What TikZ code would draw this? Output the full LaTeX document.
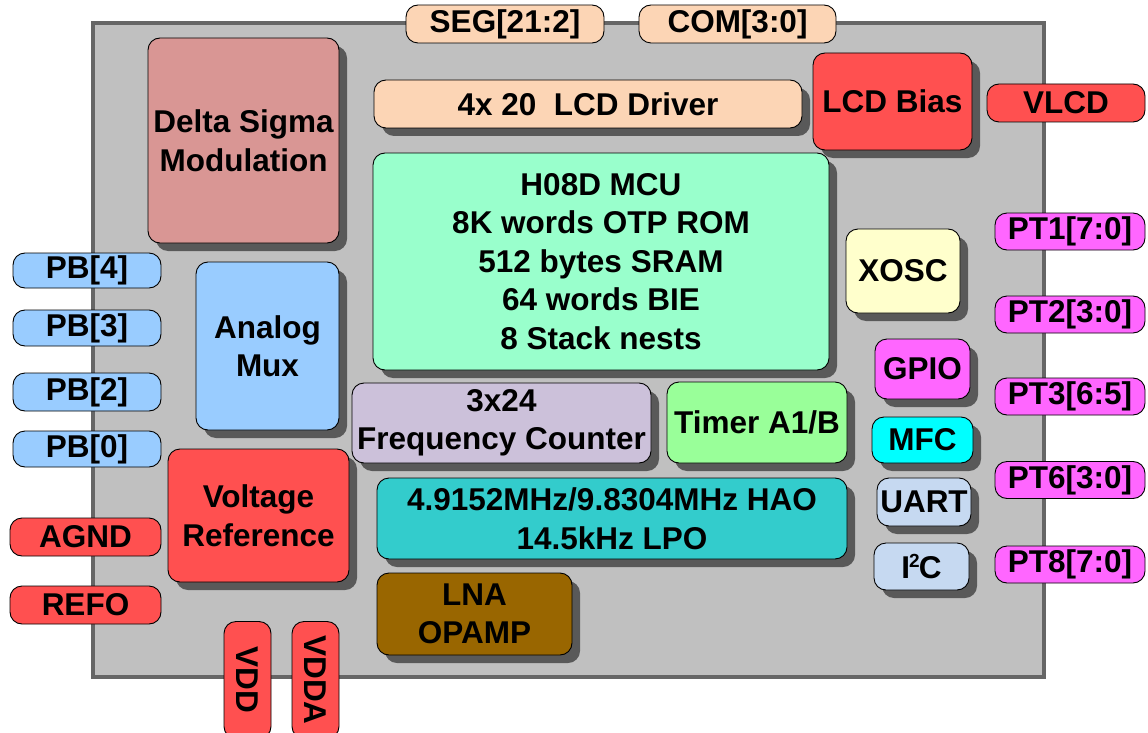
\documentclass[tikz,border=0pt]{standalone}
\usepackage{fontspec}
\setmainfont{Liberation Sans}
\usetikzlibrary{shadows}

\definecolor{chipgray}{HTML}{C0C0C0}
\definecolor{chipedge}{HTML}{666666}
\definecolor{shade}{HTML}{595959}
\definecolor{rose}{HTML}{D99694}
\definecolor{peach}{HTML}{FCD5B5}
\definecolor{pinred}{HTML}{FF5050}
\definecolor{mint}{HTML}{99FFCC}
\definecolor{cream}{HTML}{FFFFCC}
\definecolor{pink}{HTML}{FF66FF}
\definecolor{aqua}{HTML}{00FFFF}
\definecolor{paleblue}{HTML}{C6D9F1}
\definecolor{skyblue}{HTML}{99CCFF}
\definecolor{lilac}{HTML}{CCC1DA}
\definecolor{lime}{HTML}{99FF99}
\definecolor{teal}{HTML}{33CCCC}
\definecolor{bronze}{HTML}{996600}

\tikzset{
  pin/.style={draw=black, line width=0.9pt, rounded corners=12pt,
    inner sep=0pt, align=center,
    font=\bfseries\fontsize{31.5}{38.5}\selectfont},
  blk/.style={pin, drop shadow={shadow xshift=8pt, shadow yshift=-8pt,
    fill=shade, opacity=1}},
}

\begin{document}
\begin{tikzpicture}[x=1pt, y=-1pt]
\useasboundingbox (0,0) rectangle (1148,733);

% chip body
\draw[fill=chipgray, draw=chipedge, line width=4.5pt] (93,23) rectangle (1044,677);

% internal blocks
\node[blk, fill=rose, minimum width=191, minimum height=205] (dsm) at (243.5,140.5) {Delta Sigma\\Modulation};
\node[blk, fill=peach, minimum width=428, minimum height=48] (lcddrv) at (588,104) {4x 20\ \ LCD Driver};
\node[blk, fill=pinred, minimum width=159, minimum height=97] (bias) at (892.5,101.5) {LCD Bias};
\node[blk, fill=mint, minimum width=456, minimum height=217] (mcu) at (601,261.5)
  {H08D MCU\\8K words OTP ROM\\512 bytes SRAM\\64 words BIE\\8 Stack nests};
\node[blk, fill=cream, minimum width=114, minimum height=84] (xosc) at (903,271) {XOSC};
\node[blk, fill=pink, minimum width=95, minimum height=60] (gpio) at (922.5,369) {GPIO};
\node[blk, fill=aqua, minimum width=101, minimum height=46] (mfc) at (922.5,440) {MFC};
\node[blk, fill=paleblue, minimum width=94, minimum height=48] (uart) at (924,502) {UART};
\node[blk, fill=paleblue, minimum width=95, minimum height=47] (iic) at (921.5,566.5)
  {I\kern-1pt\raisebox{11pt}{\fontsize{19}{19}\selectfont 2}\kern-1pt C};
\node[blk, fill=skyblue, minimum width=143, minimum height=168] (amux) at (267.5,346) {Analog\\Mux};
\node[blk, fill=pinred, minimum width=181, minimum height=133] (vref) at (258.5,515.5) {Voltage\\Reference};
\node[blk, fill=lilac, minimum width=299, minimum height=80] (freq) at (501.5,423) {3x24\\Frequency Counter};
\node[blk, fill=lime, minimum width=180, minimum height=81] (timer) at (757,422.5) {Timer A1/B};
\node[blk, fill=teal, minimum width=470, minimum height=81] (osc) at (612,518.5) {4.9152MHz/9.8304MHz HAO\\14.5kHz LPO};
\node[blk, fill=bronze, minimum width=195, minimum height=82] (lna) at (474.5,614) {LNA\\OPAMP};

% top pins
\node[pin, fill=peach, minimum width=198, minimum height=38] (seg) at (505,24) {SEG[21:2]};
\node[pin, fill=peach, minimum width=197, minimum height=38] (com) at (737.5,24) {COM[3:0]};

% right pins
\node[pin, fill=pinred, minimum width=158, minimum height=38] (vlcd) at (1066,103) {VLCD};
\node[pin, fill=pink, minimum width=150, minimum height=37] (pta) at (1070,231.5) {PT1[7:0]};
\node[pin, fill=pink, minimum width=150, minimum height=37] (ptb) at (1070,314.5) {PT2[3:0]};
\node[pin, fill=pink, minimum width=150, minimum height=37] (ptc) at (1070,396.5) {PT3[6:5]};
\node[pin, fill=pink, minimum width=150, minimum height=37] (ptd) at (1070,480) {PT6[3:0]};
\node[pin, fill=pink, minimum width=150, minimum height=37] (pte) at (1070,564.5) {PT8[7:0]};

% left pins
\node[pin, fill=skyblue, minimum width=148, minimum height=35] (pbd) at (87,270.5) {PB[4]};
\node[pin, fill=skyblue, minimum width=148, minimum height=36] (pbc) at (87,328) {PB[3]};
\node[pin, fill=skyblue, minimum width=148, minimum height=38] (pbb) at (87,392) {PB[2]};
\node[pin, fill=skyblue, minimum width=148, minimum height=36] (pba) at (87,449) {PB[0]};
\node[pin, fill=pinred, minimum width=151, minimum height=38] (agnd) at (85.5,537) {AGND};
\node[pin, fill=pinred, minimum width=151, minimum height=38] (refo) at (85.5,605) {REFO};

% bottom supply pins
\node[pin, fill=pinred, rotate=-90, minimum width=117, minimum height=47] (vdd) at (247.5,680) {VDD};
\node[pin, fill=pinred, rotate=-90, minimum width=117, minimum height=47] (vdda) at (315.5,680) {VDDA};
\end{tikzpicture}
\end{document}
